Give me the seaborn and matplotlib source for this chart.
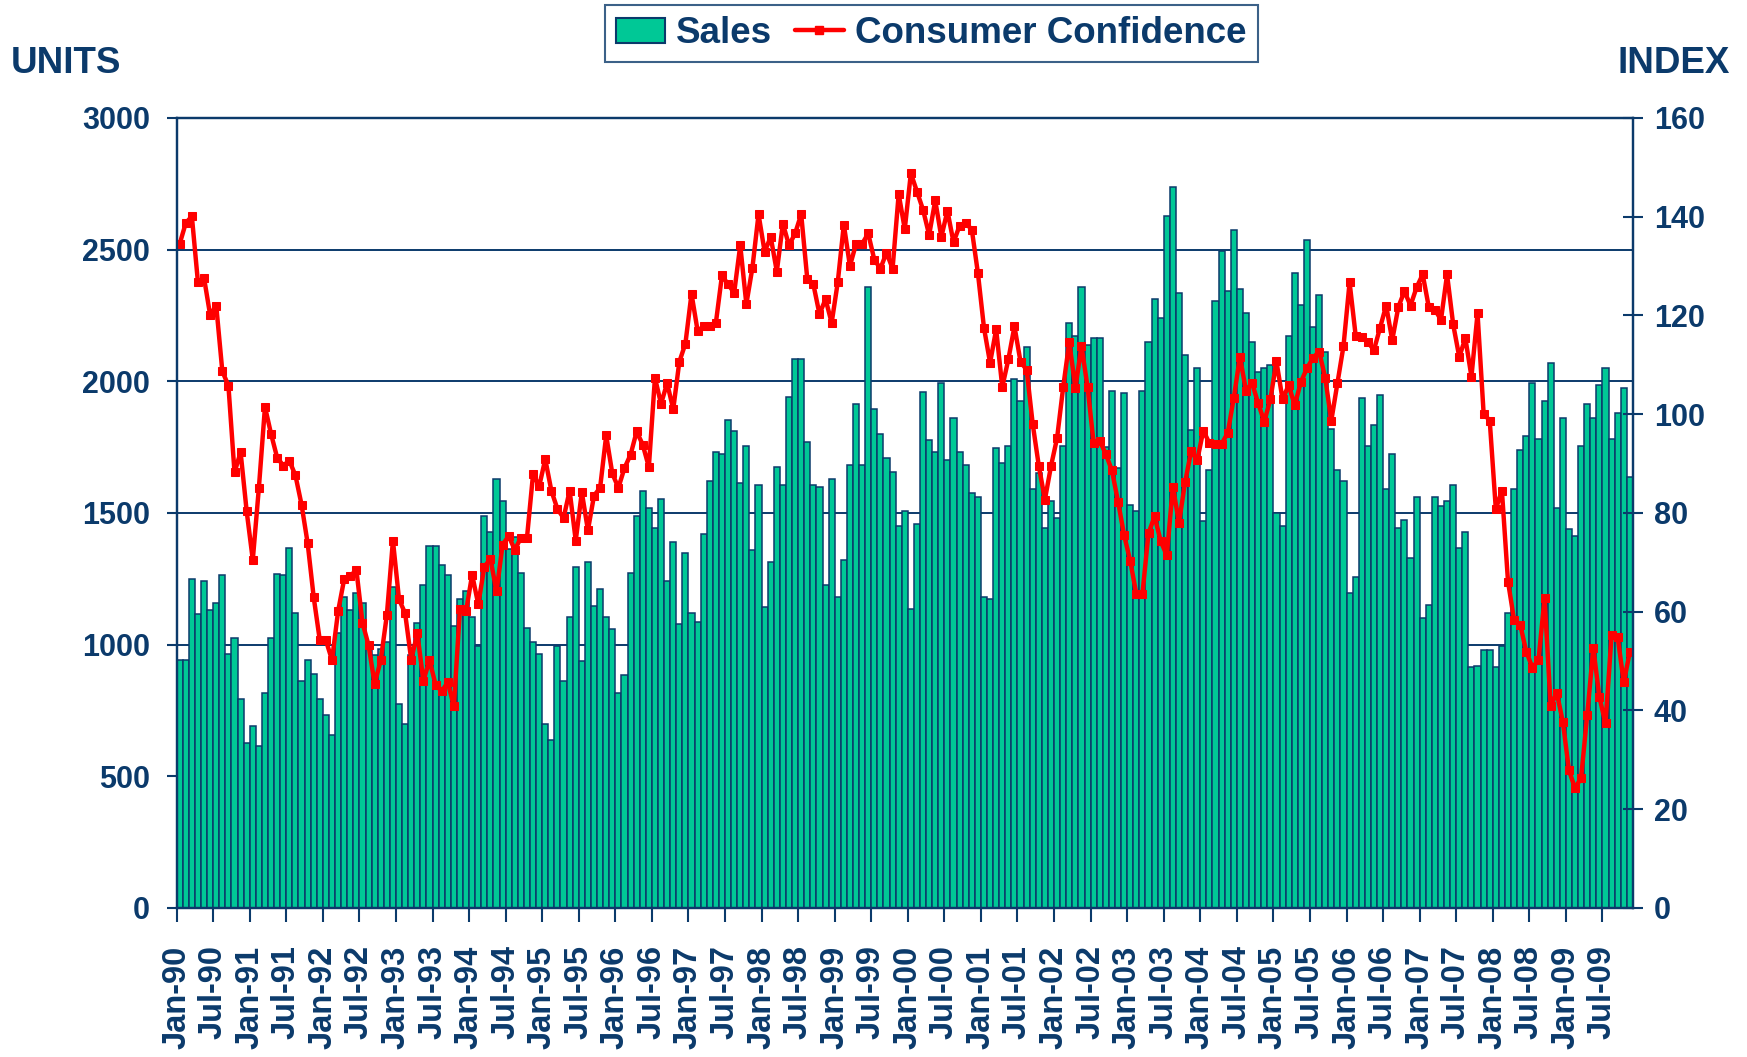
import numpy as np
import pandas as pd
import matplotlib
matplotlib.use('Agg')
import matplotlib.pyplot as plt
import seaborn as sns
from matplotlib.patches import Patch
from matplotlib.lines import Line2D

# monthly sales (units), Jan-90 .. Nov-09
sales = [
    940, 940, 1250, 1115, 1241, 1131, 1159, 1263, 966, 1026, 793, 627,
    691, 614, 817, 1026, 1269, 1263, 1368, 1121, 861, 940, 888, 793,
    733, 657, 1046, 1181, 1131, 1195, 1159, 996, 960, 985, 1010, 1219,
    773, 697, 960, 1084, 1225, 1374, 1374, 1303, 1263, 1070, 1175, 1203,
    1106, 996, 1488, 1428, 1629, 1546, 1363, 1410, 1271, 1062, 1010, 966,
    697, 637, 996, 861, 1106, 1295, 936, 1315, 1145, 1211, 1106, 1060,
    817, 883, 1271, 1488, 1584, 1518, 1442, 1554, 1243, 1390, 1080, 1347,
    1122, 1086, 1420, 1620, 1733, 1723, 1853, 1813, 1614, 1753, 1361, 1606,
    1143, 1315, 1673, 1606, 1942, 2084, 2084, 1769, 1606, 1598, 1225, 1629,
    1179, 1323, 1681, 1912, 1681, 2359, 1894, 1801, 1709, 1657, 1450, 1508,
    1135, 1458, 1958, 1777, 1733, 1992, 1701, 1861, 1733, 1681, 1576, 1560,
    1181, 1173, 1747, 1689, 1753, 2008, 1924, 2129, 1592, 1651, 1442, 1546,
    1480, 1753, 2223, 2171, 2359, 2137, 2165, 2165, 1752, 1962, 1672, 1955,
    1529, 1506, 1962, 2150, 2314, 2239, 2627, 2738, 2335, 2098, 1814, 2051,
    1468, 1664, 2305, 2494, 2343, 2575, 2350, 2259, 2149, 2037, 2050, 2060,
    1500, 1450, 2172, 2411, 2291, 2536, 2207, 2327, 2112, 1819, 1663, 1620,
    1195, 1255, 1938, 1755, 1835, 1948, 1590, 1723, 1442, 1472, 1329, 1560,
    1100, 1151, 1560, 1526, 1546, 1606, 1367, 1426, 916, 920, 980, 980,
    916, 996, 1121, 1590, 1739, 1793, 1992, 1779, 1924, 2068, 1518, 1861,
    1440, 1414, 1753, 1912, 1861, 1986, 2052, 1779, 1880, 1976, 1637,
]

# consumer confidence index, same months
confidence = [
    134.5, 138.7, 140.1, 126.7, 127.6, 120.1, 122.0, 108.7, 105.8, 88.2, 92.3, 80.3,
    70.5, 85.1, 101.5, 96.0, 91.2, 89.6, 90.6, 87.6, 81.7, 73.9, 62.9, 54.2,
    54.2, 50.2, 60.1, 66.6, 67.2, 68.5, 57.8, 53.2, 45.4, 50.2, 59.3, 74.4,
    62.5, 59.7, 50.3, 55.6, 46.0, 50.2, 45.2, 43.9, 45.7, 40.9, 60.6, 60.1,
    67.5, 61.5, 69.1, 70.7, 64.1, 73.6, 75.3, 72.5, 75.0, 75.0, 87.9, 85.4,
    90.9, 84.5, 80.8, 79.0, 84.5, 74.4, 84.2, 76.5, 83.5, 85.1, 95.7, 88.0,
    85.1, 89.1, 91.8, 96.5, 93.8, 89.3, 107.4, 102.1, 106.3, 101.0, 110.6, 114.3,
    124.4, 116.9, 117.8, 117.8, 118.5, 128.1, 126.3, 124.6, 134.2, 122.3, 129.7, 140.5,
    132.9, 135.9, 128.9, 138.6, 134.2, 136.6, 140.5, 127.4, 126.3, 120.3, 123.3, 118.5,
    126.7, 138.4, 130.0, 134.5, 134.5, 136.6, 131.3, 129.5, 132.7, 129.5, 144.6, 137.5,
    148.8, 145.1, 141.4, 136.3, 143.3, 135.9, 141.2, 134.8, 138.2, 138.7, 137.4, 128.6,
    117.5, 110.4, 117.2, 105.5, 111.1, 117.8, 110.6, 109.0, 98.0, 89.5, 82.7, 89.5,
    95.2, 105.5, 114.6, 105.3, 113.8, 105.5, 94.1, 94.6, 91.9, 88.6, 82.3, 75.5,
    70.3, 63.6, 63.6, 75.9, 79.3, 74.3, 71.4, 85.3, 78.0, 86.2, 92.5, 90.7,
    96.7, 94.1, 93.9, 94.0, 96.2, 103.3, 111.6, 104.8, 106.3, 102.2, 98.5, 103.0,
    110.7, 103.0, 105.9, 101.8, 106.5, 109.3, 111.4, 112.7, 107.4, 98.7, 106.3, 113.8,
    126.7, 115.9, 115.7, 114.6, 113.0, 117.5, 122.0, 115.0, 121.7, 124.9, 122.0, 125.7,
    128.3, 121.7, 121.2, 119.1, 128.3, 118.2, 111.6, 115.4, 107.6, 120.4, 100.1, 98.7,
    80.8, 84.5, 66.1, 58.3, 57.4, 51.9, 48.7, 50.2, 62.7, 40.9, 43.6, 37.7,
    27.9, 24.2, 26.4, 39.1, 52.6, 42.7, 37.4, 55.3, 54.8, 45.7, 51.9,
]

months = pd.date_range('1990-01-01', periods=len(sales), freq='MS')
tick_labels = [d.strftime('%b-%y') for d in months[::6]]

df = pd.DataFrame({'month': np.arange(len(sales)), 'sales': sales,
                   'confidence': confidence})

NAVY = '#0B3A6B'
GREEN = '#00C896'
RED = '#FF0000'

sns.set_style('white')
plt.rcParams['font.family'] = ['Liberation Sans', 'DejaVu Sans']
plt.rcParams['font.weight'] = 'bold'

fig = plt.figure(figsize=(17.47, 10.57), dpi=100)
ax = fig.add_axes([0.1011, 0.141, 0.8336, 0.7474])

sns.barplot(data=df, x='month', y='sales', ax=ax, color=GREEN, saturation=1,
            edgecolor=NAVY, linewidth=1.1, width=1.0, zorder=2)
ax.set_ylim(0, 3000)
ax.set_yticks(range(0, 3001, 500))
ax.yaxis.grid(True, color=NAVY, linewidth=1.4)
ax.set_axisbelow(True)
ax.set_xticks(np.arange(0, len(sales), 6) - 0.5)
ax.set_xticklabels(tick_labels, rotation=90)
ax.set_xlabel('')
ax.set_ylabel('')

ax2 = ax.twinx()
sns.lineplot(data=df, x='month', y='confidence', ax=ax2, color=RED,
             linewidth=3.2, marker='s', markersize=5.5, markeredgecolor=RED)
ax2.set_ylim(0, 160)
ax2.set_yticks(range(0, 161, 20))
ax2.set_xlabel('')
ax2.set_ylabel('')
ax.set_xlim(-0.5, len(sales) - 0.5)

for a in (ax, ax2):
    for s in a.spines.values():
        s.set_color(NAVY)
        s.set_linewidth(1.6)

ax.tick_params(axis='y', direction='out', length=7, width=1.5, color=NAVY,
               labelsize=22, labelcolor=NAVY, pad=12, left=True)
ax.tick_params(axis='x', direction='out', length=10, width=1.5, color=NAVY,
               labelsize=23.5, labelcolor=NAVY, pad=17, bottom=True)
ax2.tick_params(axis='y', direction='inout', length=14, width=1.5, color=NAVY,
                labelsize=22, labelcolor=NAVY, pad=8, right=True)

fig.text(0.0063, 0.940, 'UNITS', fontsize=26.5, fontweight='bold', color=NAVY,
         ha='left', va='center')
fig.text(0.990, 0.940, 'INDEX', fontsize=26.5, fontweight='bold', color=NAVY,
         ha='right', va='center')

handles = [Patch(facecolor=GREEN, edgecolor=NAVY, linewidth=1.5),
           Line2D([0], [0], color=RED, linewidth=3.2, marker='s', markersize=5.5)]
leg = fig.legend(handles, ['Sales', 'Consumer Confidence'], loc='upper center',
                 bbox_to_anchor=(0.533, 0.995), ncol=2, frameon=True,
                 fancybox=False, fontsize=26.5, handlelength=1.35,
                 handletextpad=0.3, columnspacing=0.6, borderpad=0.3,
                 borderaxespad=0, labelcolor=NAVY)
leg.get_frame().set_edgecolor(NAVY)
leg.get_frame().set_linewidth(1.5)

fig.savefig('out.png', dpi=100)
